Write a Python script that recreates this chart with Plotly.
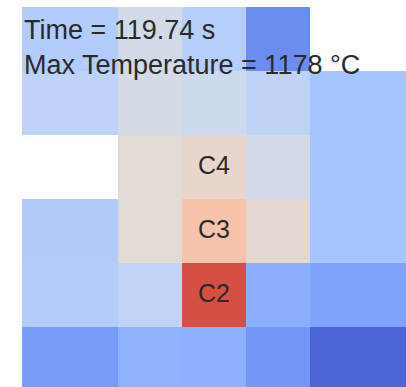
import plotly.graph_objects as go

# Temperature field (°C) on the probe grid; None = no sensor in that cell
temps = [
    [468, 598, 475, 200, None],
    [507, 605, 572, 514, 413],
    [None, 676, 708, 598, 413],
    [462, 676, 820, 690, 413],
    [468, 520, 1178, 318, 273],
    [247, 338, 325, 234, 73],
]
# Thermocouple labels placed on their cells
labels = [
    ["", "", "", "", ""],
    ["", "", "", "", ""],
    ["", "", "C4", "", ""],
    ["", "", "C3", "", ""],
    ["", "", "C2", "", ""],
    ["", "", "", "", ""],
]
# Cell boundaries (grid units)
x_edges = [0, 1.5, 2.5, 3.5, 4.5, 6.0]
y_edges = [0, 1, 2, 3, 4, 5, 6]

time_s = 119.74
max_temp = 1178
t_min, t_max = 0, 1300

# Diverging cool-warm colour scale
coolwarm = [
    [0.0, "rgb(59,76,192)"], [0.0625, "rgb(77,104,215)"], [0.125, "rgb(98,130,234)"],
    [0.1875, "rgb(119,154,247)"], [0.25, "rgb(141,176,254)"], [0.3125, "rgb(163,194,255)"],
    [0.375, "rgb(184,208,249)"], [0.4375, "rgb(204,217,238)"], [0.5, "rgb(221,221,221)"],
    [0.5625, "rgb(236,211,197)"], [0.625, "rgb(245,196,173)"], [0.6875, "rgb(247,177,148)"],
    [0.75, "rgb(244,154,123)"], [0.8125, "rgb(236,127,99)"], [0.875, "rgb(222,96,77)"],
    [0.9375, "rgb(203,62,56)"], [1.0, "rgb(180,4,38)"],
]

FONT = "Liberation Sans, Arial, sans-serif"
TEXT_COLOR = "#2a2a2a"

fig = go.Figure(
    go.Heatmap(
        z=temps,
        x=x_edges,
        y=y_edges,
        colorscale=coolwarm,
        zmin=t_min,
        zmax=t_max,
        showscale=False,
        hoverongaps=False,
    )
)

# Sensor labels at the centre of their cells
for r, row in enumerate(labels):
    for c, lab in enumerate(row):
        if lab:
            fig.add_annotation(
                text=lab,
                x=(x_edges[c] + x_edges[c + 1]) / 2,
                y=(y_edges[r] + y_edges[r + 1]) / 2,
                showarrow=False, yshift=2,
                font=dict(family=FONT, size=25, color=TEXT_COLOR),
            )

fig.add_annotation(
    text=f"Time = {time_s:.2f} s<br>Max Temperature = {max_temp} °C",
    xref="paper", yref="paper", x=0, y=1 - 6 / 380,
    xanchor="left", yanchor="top", align="left",
    showarrow=False,
    font=dict(family=FONT, size=27, color=TEXT_COLOR),
)

fig.update_xaxes(visible=False, range=[0, 6])
fig.update_yaxes(visible=False, range=[380 / 64, 0])
fig.update_layout(
    width=406, height=387,
    margin=dict(l=22, r=0, t=7, b=0),
    paper_bgcolor="white", plot_bgcolor="white",
)

fig.write_html("out.html")
